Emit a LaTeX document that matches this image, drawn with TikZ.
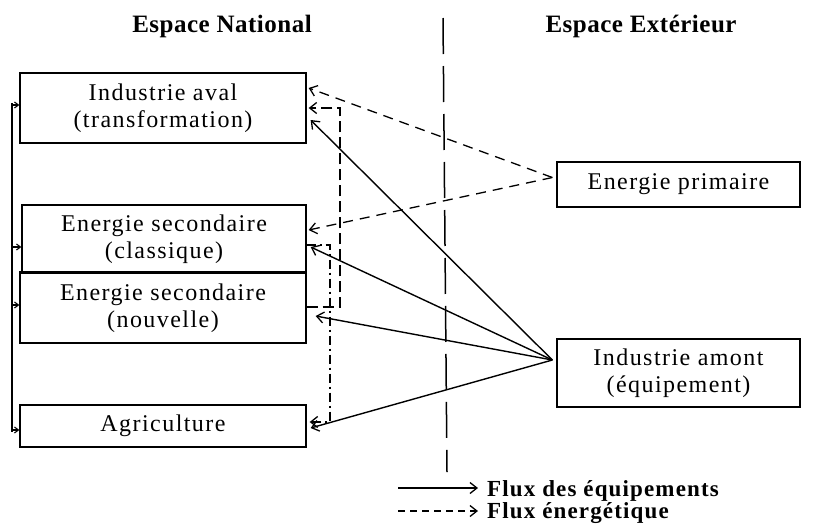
\documentclass[tikz,border=0pt]{standalone}
\usepackage{fontspec}
\setmainfont{Liberation Serif}
\newfontfamily\boxfont[LetterSpace=6]{Liberation Serif}
\newfontfamily\titlefont[LetterSpace=2]{Liberation Serif}
\newfontfamily\legfont[LetterSpace=5]{Liberation Serif}
\usetikzlibrary{arrows.meta}
\begin{document}
\begin{tikzpicture}[x=1pt,y=-1pt,
  box/.style={draw, line width=1.3pt, inner sep=0pt, align=center,
    font=\boxfont\fontsize{24}{27}\selectfont},
  ttl/.style={anchor=base, inner sep=0pt, font=\titlefont\bfseries\fontsize{25}{30}\selectfont},
  leg/.style={anchor=base west, inner sep=0pt, font=\legfont\bfseries\fontsize{23}{24}\selectfont},
  tip/.style={-{Straight Barb[length=7pt,width=11pt,line width=1.3pt]}},
  eq/.style={line width=1.4pt, tip},
  en/.style={line width=1.3pt, dash pattern=on 10pt off 7pt, tip},
  loopa/.style={line width=1.3pt, dash pattern=on 11pt off 5pt, tip},
  loopb/.style={line width=1.3pt, dash pattern=on 9pt off 4pt on 2pt off 4pt, tip},
  sep/.style={line width=1.5pt, dash pattern=on 36pt off 12pt},
  brk/.style={line width=1.3pt},
  brktip/.style={line width=1.1pt, -{Straight Barb[length=4pt,width=6pt]}}
]
\useasboundingbox (0,0) rectangle (832,528);

% titles
\node[ttl] (tn) at (222,32) {Espace National};
\node[ttl] (te) at (641,32) {Espace Extérieur};

% separator
\coordinate (vtop) at (443,18);
\coordinate (vbot) at (447,472);
\draw[sep] (vtop) -- (vbot);

% boxes
\node[box, minimum width=286pt, minimum height=70pt] (aval) at (163,108) {Industrie aval\\(transformation)};
\node[box, minimum width=284pt, minimum height=68pt] (classique) at (164,239) {Energie secondaire\\(classique)};
\node[box, minimum width=286pt, minimum height=70pt] (nouvelle) at (163,308) {Energie secondaire\\(nouvelle)};
\draw[line width=3pt] (nouvelle.north west) -- (nouvelle.north east);
\node[box, minimum width=286pt, minimum height=42pt] (agri) at (163,426) {Agriculture};
\node[box, minimum width=243pt, minimum height=45pt] (primaire) at (678.5,184.5) {Energie primaire};
\node[box, minimum width=243pt, minimum height=68pt] (amont) at (678.5,373) {Industrie amont\\(équipement)};

% apex points
\coordinate (prA) at ([shift={(-4,-7)}]primaire.west);
\coordinate (amA) at ([shift={(-4,-13)}]amont.west);

% solid arrows (equipment flows)
\draw[eq] (amA) -- ([shift={(4,12)}]aval.east);
\draw[eq] (amA) -- ([shift={(4,8)}]classique.east);
\draw[eq] (amA) -- ([shift={(9,8)}]nouvelle.east);
\draw[eq] (amA) -- ([shift={(4,2)}]agri.east);

% dashed arrows (energy flows)
\draw[en] (prA) -- ([shift={(2,-20)}]aval.east);
\draw[en] (prA) -- ([shift={(2,-9)}]classique.east);

% internal energy loops
\coordinate (l1b) at (340,307);
\coordinate (l1t) at (340,108);
\draw[loopa] ([shift={(0,-1)}]nouvelle.east) -- (l1b) -- (l1t) -- ([shift={(2,0)}]aval.east);
\coordinate (l2t) at (330,245);
\coordinate (l2b) at (330,422);
\draw[loopb] ([shift={(0,6)}]classique.east) -- (l2t) -- (l2b) -- ([shift={(3,-4)}]agri.east);

% left bracket
\coordinate (bt) at (12,103);
\coordinate (bb) at (12,432);
\draw[brk] (bt) -- (bb);
\coordinate (ta) at ([shift={(0,-3)}]aval.west);
\coordinate (tc) at ([shift={(0,8)}]classique.west);
\coordinate (tnv) at ([shift={(0,-3)}]nouvelle.west);
\coordinate (tg) at ([shift={(0,4)}]agri.west);
\draw[brktip] (bt |- ta) -- (ta);
\draw[brktip] (bt |- tc) -- (tc);
\draw[brktip] (bt |- tnv) -- (tnv);
\draw[brktip] (bt |- tg) -- (tg);

% legend
\coordinate (ls1) at (398,488);
\coordinate (le1) at (478,488);
\coordinate (ls2) at (398,511);
\coordinate (le2) at (478,511);
\draw[eq] (ls1) -- (le1);
\draw[line width=1.3pt, dash pattern=on 7pt off 5pt, tip] (ls2) -- (le2);
\node[leg] (l1) at (487,496) {Flux des équipements};
\node[leg] (l2) at (487,518) {Flux énergétique};
\end{tikzpicture}
\end{document}
